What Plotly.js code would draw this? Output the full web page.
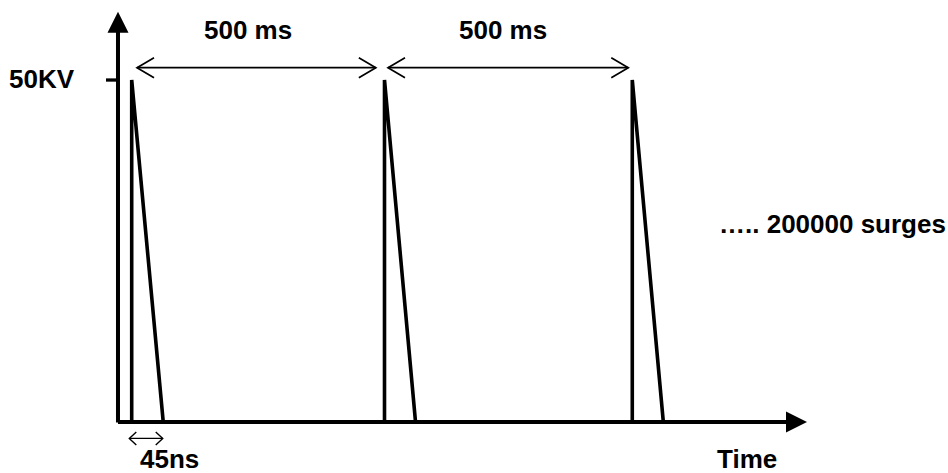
<!DOCTYPE html>
<html><head><meta charset="utf-8">
<script src="https://cdn.plot.ly/plotly-3.0.1.min.js"></script>
<style>html,body{margin:0;padding:0;background:#fff}#chart{width:948px;height:473px}</style>
</head><body><div id="chart"></div>
<script>
// ---- Data (schematic: time in ms, voltage in kV) ----
const pulseStartMs = [0, 505, 1000];
const pulseFallEndMs = [63, 567, 1062];
const peakKV = 50;
const intervalLabels = ['500 ms', '500 ms'];
const intervalStartMs = [10.6, 512];
const intervalEndMs = [487.7, 992];
const intervalKV = 51.8;
const riseLabel = '45ns';
const riseArrowMs = [-4.8, 62];
const riseArrowKV = -2.4;
const yTickVals = [50];
const yTickText = ['50KV'];
const xAxisTitle = 'Time';
const countNote = '\u2026.. 200000 surges';
const axisOriginMs = -27.4;
const xAxisEndMs = 1349;
const yAxisEndKV = 60;

// ---- Layout constants ----
const W = 948, H = 473;
const X_RANGE = [-263.1, 1630.7], Y_RANGE = [-7.456, 61.70];
const PX_PER_MS = W / (X_RANGE[1] - X_RANGE[0]);
const PX_PER_KV = H / (Y_RANGE[1] - Y_RANGE[0]);
const FONT = {family: 'Liberation Sans, Arial, sans-serif', size: 26, color: '#000', weight: 'bold'};
const P = (px, py) => ({x: px / W, y: 1 - py / H});

// pulses
const px = [], py = [];
pulseStartMs.forEach((t, i) => {
  px.push(t, t, pulseFallEndMs[i], null);
  py.push(0, peakKV, 0, null);
});
const pulses = {x: px, y: py, mode: 'lines', line: {color: '#000', width: 3.6}, hoverinfo: 'skip', showlegend: false};

// y tick marks
const tickLenMs = 24;
const tx = [], ty = [];
yTickVals.forEach(v => { tx.push(axisOriginMs - tickLenMs, axisOriginMs, null); ty.push(v, v, null); });
const ticks = {x: tx, y: ty, mode: 'lines', line: {color: '#000', width: 3.3}, hoverinfo: 'skip', showlegend: false};

// double-headed dimension arrows with open chevrons (head size in px)
function dimArrow(s, e, y, headLen, headHalf, width) {
  const L = headLen / PX_PER_MS, h = headHalf / PX_PER_KV;
  return {
    x: [s, e, null, e - L, e, e - L, null, s + L, s, s + L],
    y: [y, y, null, y + h, y, y - h, null, y + h, y, y - h],
    mode: 'lines', line: {color: '#000', width: width}, hoverinfo: 'skip', showlegend: false
  };
}
const dims = intervalStartMs.map((s, i) => dimArrow(s, intervalEndMs[i], intervalKV, 17, 10, 1.7));
dims.push(dimArrow(riseArrowMs[0], riseArrowMs[1], riseArrowKV, 7, 6.5, 1.4));

const ann = [];
const arrowBase = {text: '', showarrow: true, xref: 'x', yref: 'y', axref: 'x', ayref: 'y', arrowcolor: '#000', font: {size: 1}};
// y axis
ann.push(Object.assign({}, arrowBase, {x: axisOriginMs, y: yAxisEndKV, ax: axisOriginMs, ay: -0.3, arrowhead: 2, arrowsize: 1.05, arrowwidth: 4}));
// x axis
ann.push(Object.assign({}, arrowBase, {x: xAxisEndMs, y: 0, ax: axisOriginMs - 3, ay: 0, arrowhead: 2, arrowsize: 1.05, arrowwidth: 4}));

// text labels
const txt = (text, p, xanchor) => Object.assign({text: text, showarrow: false, xref: 'paper', yref: 'paper', xanchor: xanchor, yanchor: 'middle', font: FONT}, p);
const labelPx = [[247.5, 30], [503, 30]];
intervalLabels.forEach((l, i) => ann.push(txt(l, P(labelPx[i][0], labelPx[i][1]), 'center')));
ann.push(txt(yTickText[0], P(77, 78.5), 'right'));
ann.push(txt(riseLabel, P(138, 459), 'left'));
ann.push(txt(xAxisTitle, P(715, 459), 'left'));
ann.push(txt(countNote, P(717, 224), 'left'));

const layout = {
  width: W, height: H,
  margin: {l: 0, r: 0, t: 0, b: 0, pad: 0},
  paper_bgcolor: '#fff', plot_bgcolor: '#fff',
  xaxis: {range: X_RANGE, showgrid: false, zeroline: false, showline: false, showticklabels: false, ticks: '', fixedrange: true},
  yaxis: {range: Y_RANGE, showgrid: false, zeroline: false, showline: false, showticklabels: false, ticks: '', fixedrange: true},
  annotations: ann,
  showlegend: false
};
Plotly.newPlot('chart', [pulses, ticks].concat(dims), layout, {staticPlot: true, displayModeBar: false});
</script></body></html>
